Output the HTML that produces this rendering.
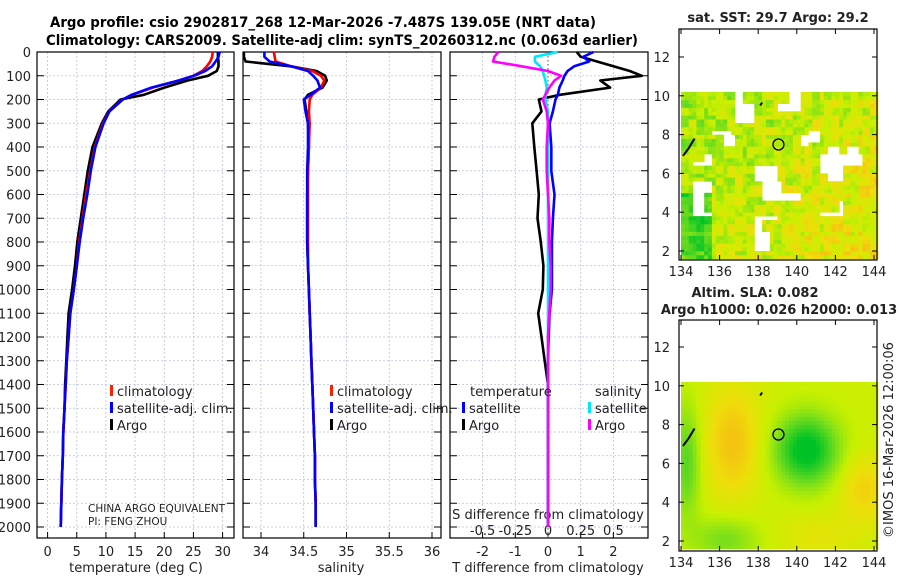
<!DOCTYPE html>
<html><head><meta charset="utf-8">
<style>
html,body{margin:0;padding:0;background:#fff;}
svg{display:block;font-family:"DejaVu Sans","Liberation Sans",sans-serif;}
</style></head>
<body>
<svg id="fig" width="900" height="580" viewBox="0 0 900 580" xmlns="http://www.w3.org/2000/svg">
<text x="323" y="27" text-anchor="middle" font-weight="bold" font-size="14" textLength="546" lengthAdjust="spacingAndGlyphs">Argo profile: csio 2902817_268 12-Mar-2026 -7.487S 139.05E (NRT data)</text>
<text x="342" y="45" text-anchor="middle" font-weight="bold" font-size="14" textLength="592" lengthAdjust="spacingAndGlyphs">Climatology: CARS2009. Satellite-adj clim: synTS_20260312.nc (0.063d earlier)</text>
<g id="g"></g>
</svg>
<script>
// ---------- DATA ----------
const depths = [0,20,40,60,80,100,120,150,180,200,250,300,400,500,600,700,800,900,1000,1100,1200,1300,1400,1500,1600,1700,1800,1900,2000];
const tempClim = [28.3,28.2,27.9,27.3,26.5,25.0,22.5,18.0,14.5,12.8,10.6,9.5,8.1,7.3,6.6,6.0,5.4,5.0,4.5,3.9,3.6,3.3,3.1,2.9,2.7,2.6,2.45,2.35,2.25];
const tempSat  = [29.5,29.3,28.8,28.2,27.0,25.1,22.5,17.8,14.4,12.9,10.6,9.6,8.2,7.4,6.8,6.1,5.5,5.0,4.5,3.9,3.6,3.3,3.1,2.9,2.7,2.6,2.45,2.35,2.25];
const tempArgo = [29.2,29.2,29.3,29.3,29.0,27.5,24.0,20.0,16.5,12.5,10.4,9.3,7.7,6.9,6.3,5.7,5.1,4.7,4.2,3.6,3.4,3.2,3.0,2.9,2.7,2.6,2.45,2.35,2.25];
const salClim  = [34.15,34.16,34.17,34.35,34.6,34.7,34.74,34.7,34.6,34.57,34.56,34.57,34.56,34.55,34.55,34.55,34.55,34.55,34.56,34.57,34.58,34.59,34.6,34.61,34.62,34.63,34.63,34.64,34.64];
const salSat   = [34.04,34.04,34.10,34.35,34.55,34.61,34.66,34.69,34.58,34.5,34.52,34.55,34.55,34.54,34.54,34.54,34.54,34.55,34.56,34.57,34.58,34.59,34.6,34.61,34.62,34.63,34.63,34.64,34.64];
const salArgo  = [33.8,33.8,33.82,34.35,34.65,34.75,34.77,34.72,34.55,34.51,34.53,34.55,34.56,34.55,34.54,34.54,34.54,34.55,34.56,34.57,34.58,34.59,34.6,34.61,34.62,34.63,34.63,34.64,34.64];
const dTsat  = [1.39,1.08,1.26,0.8,0.6,0.5,0.45,0.35,0.3,0.23,0.15,0.05,0.1,0.1,0.2,0.15,0.12,0.12,0.12,0.05,0.02,0.0,0.0,0.0,0.0,0.0,0.0,0.0,0.0];
const dTargo = [0.88,1.0,1.5,2.0,2.5,2.87,1.6,1.9,0.36,-0.28,-0.2,-0.48,-0.42,-0.35,-0.28,-0.32,-0.22,-0.14,-0.16,-0.3,-0.2,-0.1,0.0,0.0,0.0,0.0,0.0,0.0,0.0];
const dSsat  = [0.074,-0.1,-0.1,-0.06,-0.04,-0.03,-0.02,-0.01,-0.02,-0.02,0.0,0.0,0.0,0.0,0.0,0.0,0.0,0.0,0.0,0.0,0.0,0.0,0.0,0.0,0.0,0.0,0.0,0.0,0.0];
const dSargo = [-0.38,-0.41,-0.42,-0.2,0.0,0.1,0.05,0.01,-0.02,-0.04,-0.01,0.0,-0.01,-0.01,0.0,0.01,0.01,0.02,0.02,0.01,0.0,0.0,0.0,0.0,0.0,0.0,0.0,0.0,0.0];
const depthTicks = [0,100,200,300,400,500,600,700,800,900,1000,1100,1200,1300,1400,1500,1600,1700,1800,1900,2000];
const tempTicks = [0,5,10,15,20,25,30];
const salTicks = [34,34.5,35,35.5,36];
const salTickLabels = ["34","34.5","35","35.5","36"];
const dTTicks = [-2,-1,0,1,2];
const dSTicks = [-0.5,-0.25,0,0.25,0.5];
const dSTickLabels = ["-0.5","-0.25","0","0.25","0.5"];
const lonTicks = [134,136,138,140,142,144];
const latTicks = [2,4,6,8,10,12];

// ---------- HELPERS ----------
const NS="http://www.w3.org/2000/svg";
const G=document.getElementById('g');
function el(tag,attrs,parent){const e=document.createElementNS(NS,tag);for(const k in attrs)e.setAttribute(k,attrs[k]);(parent||G).appendChild(e);return e;}
const top0=52, pxPer=0.2375, bot=538;
const yD=d=>top0+d*pxPer;
const panels=[
 {x0:37,x1:234,xs:v=>47.6+v*5.833,name:'temperature-panel'},
 {x0:243,x1:441,xs:v=>261+(v-34)*85.5,name:'salinity-panel'},
 {x0:450,x1:648,xs:v=>548+v*32.7,name:'difference-panel'}
];
function txt(x,y,s,opts,name){const t=el('text',Object.assign({x:x,y:y,'font-size':13,fill:'#222'},opts||{}));t.textContent=s;

return t;}
function line(xs,vals,col,name){
 let d='';vals.forEach((v,i)=>{d+=(i?'L':'M')+xs(v).toFixed(1)+','+yD(depths[i]).toFixed(1);});
 const p=el('path',{d:d,fill:'none',stroke:col,'stroke-width':2.6,'stroke-linejoin':'round'});
 
 
}
panels.forEach((P,pi)=>{
 const g=el('g',{});
 
 
 depthTicks.forEach(d=>{
  el('line',{x1:P.x0,x2:P.x1,y1:yD(d),y2:yD(d),stroke:'#b8c0dc','stroke-width':0.8,'stroke-dasharray':'2,2'},g);
  el('line',{x1:P.x0,x2:P.x0+7,y1:yD(d),y2:yD(d),stroke:'#000'},g);
  el('line',{x1:P.x1-7,x2:P.x1,y1:yD(d),y2:yD(d),stroke:'#000'},g);
 });
 const vt = pi==0?tempTicks:pi==1?salTicks:[-2,-1,1,2];
 vt.forEach(v=>el('line',{x1:P.xs(v),x2:P.xs(v),y1:top0,y2:bot,stroke:'#b8c0dc','stroke-width':0.8,'stroke-dasharray':'2,2'},g));
 const xt = pi==0?tempTicks:pi==1?salTicks:dTTicks;
 xt.forEach(v=>{el('line',{x1:P.xs(v),x2:P.xs(v),y1:bot,y2:bot-6,stroke:'#000'},g);});
 el('rect',{x:P.x0,y:top0,width:P.x1-P.x0,height:bot-top0,fill:'none',stroke:'#000','stroke-width':1.2},g);
});
depthTicks.forEach(d=>txt(31,yD(d)+5,String(d),{'text-anchor':'end'},'depth-tick-label'));
tempTicks.forEach(v=>txt(panels[0].xs(v),556,String(v),{'text-anchor':'middle'},'temperature-tick-label'));
salTicks.forEach((v,i)=>txt(panels[1].xs(v),556,salTickLabels[i],{'text-anchor':'middle'},'salinity-tick-label'));
dTTicks.forEach(v=>txt(panels[2].xs(v),556,String(v),{'text-anchor':'middle'},'t-difference-tick-label'));
dSTicks.forEach((v,i)=>txt(panels[2].xs(v*4),535,dSTickLabels[i],{'text-anchor':'middle'},'s-difference-tick-label'));
txt(136,572,'temperature (deg C)',{'text-anchor':'middle'},'temperature-axis-title');
txt(341,572,'salinity',{'text-anchor':'middle'},'salinity-axis-title');
txt(548,572,'T difference from climatology',{'text-anchor':'middle'},'t-difference-axis-title');
txt(548,519,'S difference from climatology',{'text-anchor':'middle'},'s-difference-axis-title');
el('line',{x1:548,x2:548,y1:top0,y2:bot,stroke:'#555','stroke-dasharray':'1.5,2.5'});
line(panels[0].xs,tempArgo,'#000','temp-argo-line');
line(panels[0].xs,tempClim,'#ff0000','temp-climatology-line');
line(panels[0].xs,tempSat,'#0000ff','temp-satellite-line');
line(panels[1].xs,salArgo,'#000','sal-argo-line');
line(panels[1].xs,salClim,'#ff0000','sal-climatology-line');
line(panels[1].xs,salSat,'#0000ff','sal-satellite-line');
line(panels[2].xs,dTargo,'#000','dt-argo-line');
line(panels[2].xs,dTsat,'#0000ff','dt-satellite-line');
line(panels[2].xs,dSsat.map(v=>v*4),'#00e8ff','ds-satellite-line');
line(panels[2].xs,dSargo.map(v=>v*4),'#ff00ff','ds-argo-line');
function leg(x,y,col,s,name){el('rect',{x:x,y:y-11,width:3,height:11,fill:col});txt(x+7,y,s,{},name);}
leg(110,396,'#ff2000','climatology','legend-climatology');
leg(110,413,'#0000ff','satellite-adj. clim.','legend-satellite-adj');
leg(110,430,'#000','Argo','legend-argo');
leg(330,396,'#ff2000','climatology','legend-climatology-sal');
leg(330,413,'#0000ff','satellite-adj. clim.','legend-satellite-adj-sal');
leg(330,430,'#000','Argo','legend-argo-sal');
txt(470,396,'temperature',{},'legend-temperature-heading');
txt(595,396,'salinity',{},'legend-salinity-heading');
leg(462,413,'#0000ff','satellite','legend-dt-satellite');
leg(462,430,'#000','Argo','legend-dt-argo');
leg(588,413,'#00e8ff','satellite','legend-ds-satellite');
leg(588,430,'#ff00ff','Argo','legend-ds-argo');
txt(88,512,'CHINA ARGO EQUIVALENT',{'font-size':10.5},'pi-institution');
txt(88,525,'PI: FENG ZHOU',{'font-size':10.5},'pi-name');

// ---------- MAPS ----------
const lonX=l=>681+(l-134)*19.3;
function mapAxes(name){
 const g=el('g',{});
 
 
 return g;
}
function hash(i,j,s){let h=(i*374761393+j*668265263+s*2147483647)|0;h=(h^(h>>>13))*1274126177|0;return ((h^(h>>>16))>>>0)/4294967296;}
function colMap(v){
 v=Math.max(0,Math.min(1,v));
 const stops=[[0,[0,195,40]],[0.35,[110,220,30]],[0.6,[200,240,0]],[0.8,[238,222,10]],[1,[246,185,20]]];
 for(let k=1;k<stops.length;k++){if(v<=stops[k][0]){const a=stops[k-1],b=stops[k],t=(v-a[0])/(b[0]-a[0]);
 return 'rgb('+a[1].map((c,i)=>Math.round(c+(b[1][i]-c)*t)).join(',')+')';}}
}
const sstLatY=l=>251-(l-2)*19.4;
const gs=mapAxes('sst-map');
const cw=0.2;
for(let lo=134;lo<144.05;lo+=cw){for(let la=1.6;la<10.1;la+=cw){
 const i=Math.round(lo*5),j=Math.round(la*5);
 if(hash(Math.floor(lo*0.9),Math.floor(la*1.1),3)<0.12 && hash(Math.floor(lo*2),Math.floor(la*2),9)<0.6) continue;
 let base=0.58+0.2*((lo-134)/10)-0.12*((la-2)/8)+ (lo<135.5&&la<5?-0.35:0);
 const v=base+(hash(Math.floor(lo*3),Math.floor(la*3),7)-0.5)*0.35+(hash(i,j,1)-0.5)*0.12;
 el('rect',{x:lonX(lo).toFixed(1),y:sstLatY(la+cw).toFixed(1),width:(cw*19.3+0.4).toFixed(1),height:(cw*19.4+0.4).toFixed(1),fill:colMap(v)},gs);
}}
const slaLatY=l=>541-(l-2)*19.4;
const gl=mapAxes('sla-map');
const blobs=[[136.6,7.0,1.0,2.0,0.33],[140.4,6.6,1.1,1.2,-0.7],[143.4,4.6,0.9,1.2,0.25],[136.2,2.0,1.2,0.8,-0.25],[134.2,6,0.5,2.0,-0.35],[141,2.2,1.5,0.8,0.12]];
for(let lo=134;lo<144.15;lo+=cw){for(let la=1.6;la<10.1;la+=cw){
 let v=0.62;blobs.forEach(b=>{v+=b[4]*Math.exp(-((lo-b[0])**2/(2*b[2]**2)+(la-b[1])**2/(2*b[3]**2)));});
 el('rect',{x:lonX(lo).toFixed(1),y:slaLatY(la+cw).toFixed(1),width:(cw*19.3+0.4).toFixed(1),height:(cw*19.4+0.4).toFixed(1),fill:colMap(v)},gl);
}}
[[29,sstLatY,gs],[320,slaLatY,gl]].forEach(([y0,LY,g])=>{
 const yb=y0+231;
 latTicks.forEach(l=>{el('line',{x1:679,x2:684,y1:LY(l),y2:LY(l),stroke:'#000'},g);el('line',{x1:872,x2:877,y1:LY(l),y2:LY(l),stroke:'#000'},g);
  txt(670,LY(l)+5,String(l),{'text-anchor':'end'},'lat-tick-label');});
 lonTicks.forEach(l=>{el('line',{x1:lonX(l),x2:lonX(l),y1:yb,y2:yb-5,stroke:'#000'},g);el('line',{x1:lonX(l),x2:lonX(l),y1:y0,y2:y0+5,stroke:'#000'},g);
  txt(lonX(l),yb+16,String(l),{'text-anchor':'middle'},'lon-tick-label');});
 el('rect',{x:679,y:y0,width:198,height:231,fill:'none',stroke:'#000','stroke-width':1.2},g);
 el('circle',{cx:lonX(139.05),cy:LY(7.49),r:5.5,fill:'none',stroke:'#000','stroke-width':1.3},g);
 el('path',{d:'M'+lonX(134.1)+','+LY(6.9)+' L'+lonX(134.4)+','+LY(7.3)+' L'+lonX(134.7)+','+LY(7.8),stroke:'#000','stroke-width':2,fill:'none'},g);
 el('path',{d:'M'+lonX(138.1)+','+LY(9.5)+' l2,-3',stroke:'#000','stroke-width':2,fill:'none'},g);
});
txt(778,22,'sat. SST: 29.7 Argo: 29.2',{'text-anchor':'middle','font-weight':'bold'},'sst-map-title');
txt(755,297,'Altim. SLA: 0.082',{'text-anchor':'middle','font-weight':'bold'},'sla-map-title');
txt(779,314,'Argo h1000: 0.026 h2000: 0.013',{'text-anchor':'middle','font-weight':'bold'},'argo-height-title');
txt(893,440,'©IMOS 16-Mar-2026 12:00:06',{'text-anchor':'middle',transform:'rotate(-90 893 440)'},'imos-timestamp');
</script>
</body></html>
